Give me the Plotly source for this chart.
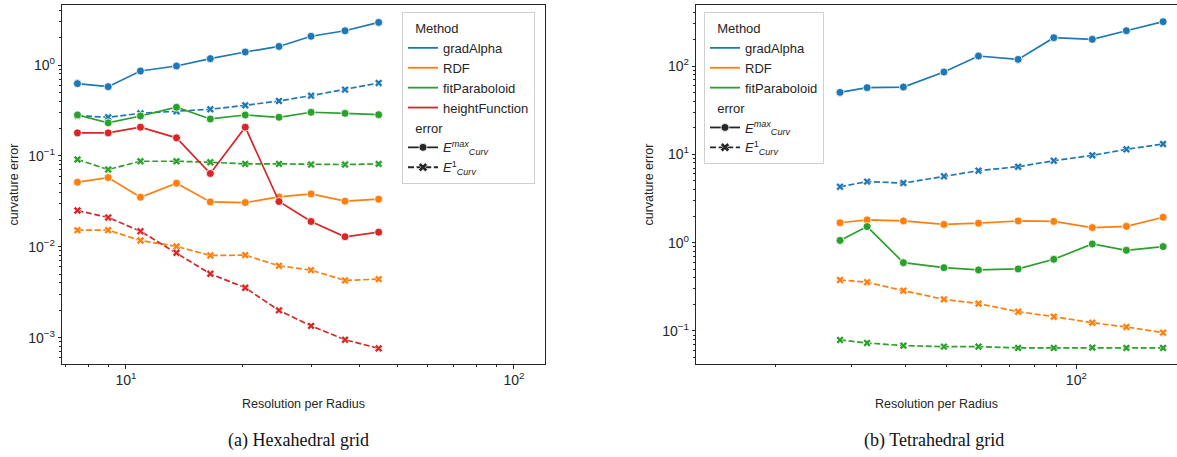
import plotly.graph_objects as go

# ---------------- data: (a) Hexahedral grid ----------------
hex_res = [7.5, 9.0, 10.9, 13.5, 16.5, 20.3, 24.8, 30.0, 36.7, 44.8]
hex_gradAlpha_max = [0.624, 0.578, 0.859, 0.975, 1.175, 1.39, 1.60, 2.07, 2.38, 2.94]
hex_gradAlpha_l1 = [0.277, 0.266, 0.294, 0.310, 0.326, 0.360, 0.402, 0.460, 0.536, 0.634]
hex_RDF_max = [0.0514, 0.0578, 0.0351, 0.0501, 0.0312, 0.0307, 0.0354, 0.0382, 0.0318, 0.0334]
hex_RDF_l1 = [0.01525, 0.01525, 0.01174, 0.0101, 0.00803, 0.00810, 0.00618, 0.00554, 0.00427, 0.00441]
hex_fitParaboloid_max = [0.282, 0.231, 0.275, 0.343, 0.255, 0.282, 0.266, 0.302, 0.294, 0.284]
hex_fitParaboloid_l1 = [0.0912, 0.0708, 0.0874, 0.0874, 0.0852, 0.0817, 0.0817, 0.0803, 0.0803, 0.0817]
hex_heightFunction_max = [0.179, 0.179, 0.207, 0.158, 0.064, 0.207, 0.0315, 0.0190, 0.0129, 0.0145]
hex_heightFunction_l1 = [0.0251, 0.0210, 0.01486, 0.00859, 0.00505, 0.00354, 0.00200, 0.00135, 0.000951, 0.000764]

# ---------------- data: (b) Tetrahedral grid ----------------
tet_res = [28.2, 32.6, 39.6, 49.2, 59.2, 73.2, 88.6, 108.9, 130.7, 159.1]
tet_gradAlpha_max = [50.3, 56.9, 57.8, 85.5, 129.8, 118.9, 209.3, 200.5, 251.0, 317.8]
tet_gradAlpha_l1 = [4.30, 4.91, 4.73, 5.64, 6.53, 7.25, 8.47, 9.74, 11.40, 13.1]
tet_RDF_max = [1.68, 1.81, 1.76, 1.61, 1.66, 1.76, 1.74, 1.48, 1.53, 1.94]
tet_RDF_l1 = [0.378, 0.356, 0.286, 0.228, 0.204, 0.1655, 0.1452, 0.124, 0.111, 0.0957]
tet_fitParaboloid_max = [1.06, 1.52, 0.594, 0.521, 0.491, 0.504, 0.648, 0.966, 0.819, 0.902]
tet_fitParaboloid_l1 = [0.0791, 0.0731, 0.0682, 0.0665, 0.0665, 0.0643, 0.0643, 0.0648, 0.0643, 0.0643]

methods = ["gradAlpha", "RDF", "fitParaboloid", "heightFunction"]
colors = {"gradAlpha": "#1f77b4", "RDF": "#ff7f0e",
          "fitParaboloid": "#2ca02c", "heightFunction": "#d62728"}

hex_series = {
    "gradAlpha": (hex_gradAlpha_max, hex_gradAlpha_l1),
    "RDF": (hex_RDF_max, hex_RDF_l1),
    "fitParaboloid": (hex_fitParaboloid_max, hex_fitParaboloid_l1),
    "heightFunction": (hex_heightFunction_max, hex_heightFunction_l1),
}
tet_series = {
    "gradAlpha": (tet_gradAlpha_max, tet_gradAlpha_l1),
    "RDF": (tet_RDF_max, tet_RDF_l1),
    "fitParaboloid": (tet_fitParaboloid_max, tet_fitParaboloid_l1),
}

W, H = 1177, 457
TXT = "#262626"
FONT = "Liberation Sans, Arial, sans-serif"
DASH = "6px,2.6px"

fig = go.Figure()


def add_series(res, series, xa, ya):
    for m, (vmax, vl1) in series.items():
        c = colors[m]
        fig.add_trace(go.Scatter(
            x=res, y=vmax, xaxis=xa, yaxis=ya, mode="lines+markers",
            line=dict(color=c, width=1.7),
            marker=dict(symbol="circle", size=8, color=c,
                        line=dict(color="white", width=0.8)),
            showlegend=False, hoverinfo="skip"))
        fig.add_trace(go.Scatter(
            x=res, y=vl1, xaxis=xa, yaxis=ya, mode="lines+markers",
            line=dict(color=c, width=1.7, dash=DASH),
            marker=dict(symbol="x", size=7, color=c,
                        line=dict(color="white", width=0.6)),
            showlegend=False, hoverinfo="skip"))


add_series(hex_res, hex_series, "x", "y")
add_series(tet_res, tet_series, "x2", "y2")

E_MAX = "<i>E</i><sup><i>max</i></sup><sub><i>Curv</i></sub>"
E_L1 = "<i>E</i><sup>1</sup><sub><i>Curv</i></sub>"


def add_legend(legend_name, meths):
    for i, m in enumerate(meths):
        fig.add_trace(go.Scatter(
            x=[None], y=[None], mode="lines", name=m,
            line=dict(color=colors[m], width=1.8),
            legend=legend_name, legendgroup=legend_name + "method",
            legendgrouptitle=dict(text="  Method") if i == 0 else None,
            showlegend=True))
    fig.add_trace(go.Scatter(
        x=[None], y=[None], mode="lines+markers", name=E_MAX,
        line=dict(color=TXT, width=1.8),
        marker=dict(symbol="circle", size=8, color=TXT, line=dict(color="white", width=0.8)),
        legend=legend_name, legendgroup=legend_name + "error",
        legendgrouptitle=dict(text="  error"), showlegend=True))
    fig.add_trace(go.Scatter(
        x=[None], y=[None], mode="lines+markers", name=E_L1,
        line=dict(color=TXT, width=1.8, dash=DASH),
        marker=dict(symbol="x", size=8, color=TXT, line=dict(color="white", width=0.6)),
        legend=legend_name, legendgroup=legend_name + "error", showlegend=True))


add_legend("legend", methods)
add_legend("legend2", methods[:3])

# geometry (pixels)
L_X0, L_X1 = 62.3, 545.0
R_X0, R_X1 = 696.3, 1177.0
Y_TOP, Y_BOT = 5.0, 364.0

ydom = [(H - Y_BOT) / H, (H - Y_TOP) / H]

minor_vals = [m * 10 ** e for e in range(-4, 4) for m in range(2, 10)]


def sup(p):
    s = str(p) if p >= 0 else "\u2212" + str(-p)
    return "10<sup>" + s + "</sup>"


axis_common = dict(
    type="log", showgrid=False, zeroline=False, showline=True,
    linecolor=TXT, linewidth=1.1, ticks="outside", ticklen=3.5, tickwidth=1,
    tickcolor=TXT, tickfont=dict(family=FONT, size=14, color=TXT),
    minor=dict(ticks="outside", ticklen=2, tickwidth=0.8, tickcolor=TXT,
               tickmode="array", tickvals=minor_vals, showgrid=False),
    tickmode="array",
)

leg_common = dict(
    xanchor="left", yanchor="top",
    bgcolor="white", bordercolor="#d0d0d0", borderwidth=1,
    font=dict(family=FONT, size=13, color=TXT), itemwidth=30,
    tracegroupgap=0, traceorder="grouped",
    grouptitlefont=dict(family=FONT, size=13, color=TXT),
)

fig.update_layout(
    width=W, height=H, margin=dict(l=0, r=0, t=0, b=0),
    paper_bgcolor="white", plot_bgcolor="white",
    font=dict(family=FONT, size=12, color=TXT),
    hovermode=False,
    xaxis=dict(axis_common, domain=[L_X0 / W, L_X1 / W], range=[0.836, 2.080],
               tickvals=[10, 100], ticktext=[sup(1), sup(2)], mirror=True, anchor="y"),
    yaxis=dict(axis_common, domain=ydom, range=[-3.289, 0.660],
               tickvals=[1e-3, 1e-2, 1e-1, 1], ticktext=[sup(-3), sup(-2), sup(-1), sup(0)],
               mirror=True, anchor="x"),
    xaxis2=dict(axis_common, domain=[R_X0 / W, R_X1 / W], range=[1.116, 2.234],
                tickvals=[100], ticktext=[sup(2)], mirror=True, anchor="y2"),
    yaxis2=dict(axis_common, domain=ydom, range=[-1.374, 2.691],
                tickvals=[0.1, 1, 10, 100], ticktext=[sup(-1), sup(0), sup(1), sup(2)],
                mirror=False, anchor="x2"),
    legend=dict(leg_common, x=402 / W, y=(H - 12) / H),
    legend2=dict(leg_common, x=704 / W, y=(H - 12) / H),
)

ann_font = dict(family=FONT, size=12.5, color=TXT)
cap_font = dict(family="Liberation Serif, Times New Roman, serif", size=18, color="#111111")
annotations = [
    dict(text="Resolution per Radius", x=(L_X0 + L_X1) / 2 / W, y=(H - 404) / H,
         xref="paper", yref="paper", showarrow=False, font=ann_font,
         xanchor="center", yanchor="middle"),
    dict(text="Resolution per Radius", x=(R_X0 + R_X1) / 2 / W, y=(H - 404) / H,
         xref="paper", yref="paper", showarrow=False, font=ann_font,
         xanchor="center", yanchor="middle"),
    dict(text="curvature error", x=13 / W, y=(H - 184.5) / H, textangle=-90,
         xref="paper", yref="paper", showarrow=False, font=ann_font,
         xanchor="center", yanchor="middle"),
    dict(text="curvature error", x=648 / W, y=(H - 184.5) / H, textangle=-90,
         xref="paper", yref="paper", showarrow=False, font=ann_font,
         xanchor="center", yanchor="middle"),
    dict(text="(a) Hexahedral grid", x=298 / W, y=(H - 440) / H,
         xref="paper", yref="paper", showarrow=False, font=cap_font,
         xanchor="center", yanchor="middle"),
    dict(text="(b) Tetrahedral grid", x=934 / W, y=(H - 440) / H,
         xref="paper", yref="paper", showarrow=False, font=cap_font,
         xanchor="center", yanchor="middle"),
]
fig.update_layout(annotations=annotations)

fig.write_html(
    "out.html",
    config={"displayModeBar": False, "staticPlot": False},
    post_script="document.body.style.margin='0';document.body.style.overflow='hidden';",
)
